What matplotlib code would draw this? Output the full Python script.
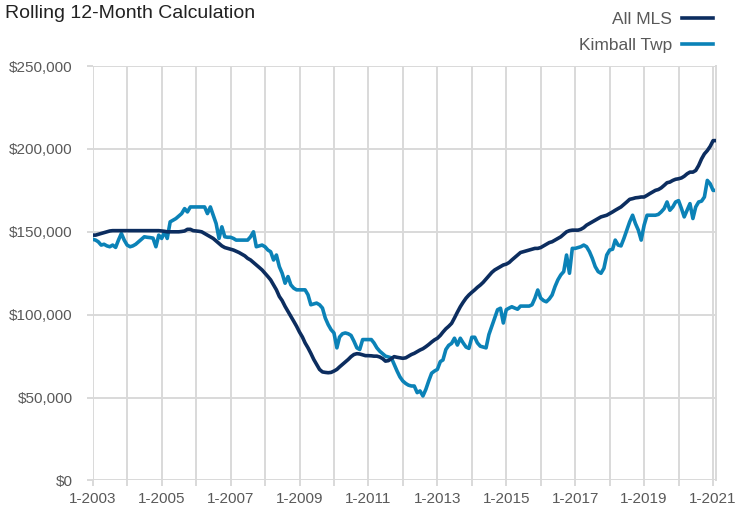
import matplotlib
matplotlib.use("Agg")
import matplotlib.pyplot as plt
import pandas as pd
from matplotlib import font_manager


# --------------------------------------------------
# DATA (rolling 12-month values, $ thousands, monthly from 1-2003)
# --------------------------------------------------

all_mls = [
    148, 148, 148.5, 149, 149.5, 150, 150.5, 150.7, 150.7, 150.7, 150.7, 150.7,
    150.7, 150.7, 150.7, 150.7, 150.7, 150.7, 150.7, 150.7, 150.7, 150.7, 150.7, 150.7,
    150.5, 150.3, 150, 150, 150, 150, 150, 150.2, 150.5, 151.5, 151.5, 150.7,
    150.5, 150.3, 150, 149, 148, 147, 146, 144.5, 143, 141.5, 140.5, 140,
    139.5, 139, 138.3, 137.5, 136.5, 135.5, 134, 133, 131.5, 130, 128.5, 127,
    125, 123, 121, 118, 115, 111, 108.5, 105, 102, 99, 96, 93,
    89.5, 86.5, 83, 80, 76.7, 73, 70, 67, 65.5, 65.2, 65, 65.2,
    66, 67, 68.5, 70, 71.5, 73, 74.7, 76, 76.5, 76.3, 75.8, 75.3,
    75.3, 75.2, 75, 75, 74.5, 73.5, 72, 72.3, 73.5, 74.7, 74.3, 74,
    73.7, 74, 75, 76, 76.7, 77.7, 78.7, 79.5, 80.7, 82, 83.5, 84.8,
    85.8, 87.5, 89.5, 91.5, 93, 94.8, 98, 101.5, 104.8, 107.5, 110, 111.9,
    113.5, 115, 116.5, 117.9, 119.5, 121.5, 123.5, 125.5, 127, 128, 129, 130,
    130.5, 131.5, 133, 134.5, 136, 137.5, 138, 138.5, 139, 139.5, 140, 140,
    140.5, 141.5, 142.5, 143.5, 144, 145, 146, 147, 148.5, 150, 150.7, 151,
    151, 151, 151.5, 152.5, 154, 155, 156, 157, 158, 159, 159.5, 160,
    161, 162, 163, 164, 165, 166.5, 168, 169.6, 170, 170.5, 170.7, 171,
    171, 172, 173, 174, 175, 175.5, 176.5, 178, 179.6, 180, 181, 181.7,
    182, 182.5, 183.5, 185, 186, 186, 187, 190, 194, 197, 199, 201.5,
    205, 205,
]

kimball_twp = [
    145.5, 145, 144, 142, 142.5, 141.5, 141, 142, 140.6, 145, 149, 145,
    142, 141, 141.5, 142.5, 144, 145.5, 147, 146.7, 146.5, 146.2, 141, 148,
    146, 150, 146, 156, 157, 158, 159.5, 161, 164, 162, 165, 165,
    165, 165, 165, 165, 161, 165, 160, 155, 146, 153, 147, 146.7,
    146.7, 146, 145, 145, 145, 145, 145, 147, 150, 141, 141.5, 142,
    141, 139, 138, 133, 136, 129, 125, 119, 123, 118, 116, 115,
    115, 115, 115, 112, 106, 106.5, 107, 106, 104, 98, 94, 91,
    89, 80, 86.5, 88.5, 89, 88.5, 87.5, 84, 80, 79, 85, 85,
    85, 85, 83, 80, 78, 76.5, 75, 74.5, 74, 70, 66, 62.5,
    60, 58.5, 57.5, 57, 57, 53, 54, 51, 55, 60, 64.7, 66,
    67, 71.7, 72.7, 79, 81.5, 82.7, 85.8, 81.7, 85.8, 83, 80.5, 79.7,
    86.4, 86.4, 83, 81, 80.5, 80, 88, 93, 98, 103, 103.9, 95,
    103, 104, 104.8, 104, 103.3, 105.2, 105.2, 105.2, 105.2, 106, 110, 114.9,
    110, 108.5, 107.8, 109.5, 111.9, 117, 121, 124, 126, 136, 125, 140,
    140, 140.5, 141, 142, 141, 138, 134, 129, 126, 125, 128, 136,
    139, 139.5, 145, 142, 141.5, 146, 151, 156, 160, 155, 151, 145,
    154, 160, 160, 160, 160, 160.5, 162, 164, 168, 163, 165, 168,
    168.8, 164, 159, 163, 167, 158, 165, 168, 168.5, 171, 181, 179,
    175, 175,
]

series_names = ["All MLS", "Kimball Twp"]

y_ticks = [0, 50000, 100000, 150000, 200000, 250000]

months = pd.date_range("2003-01-01", periods=len(all_mls), freq="MS")
years = list(range(2003, 2022))


# --------------------------------------------------
# STYLE
# --------------------------------------------------

installed = {f.name for f in font_manager.fontManager.ttflist}
narrow = "Liberation Sans Narrow" if "Liberation Sans Narrow" in installed else "Liberation Sans"
plt.rcParams["font.family"] = [narrow, "DejaVu Sans"]

navy = "#0c2d5f"
light_blue = "#0b82b7"
grid_color = "#d9d9d9"
text_gray = "#595959"


# --------------------------------------------------
# CHART
# --------------------------------------------------

fig = plt.figure(figsize=(7.38, 5.15), dpi=100)
ax = fig.add_axes([0.1256, 0.067, 0.8446, 0.8048])

ax.plot(months, [v * 1000 for v in all_mls], color=navy, lw=2.6,
        label=series_names[0], solid_joinstyle="round", zorder=3)
ax.plot(months, [v * 1000 for v in kimball_twp], color=light_blue, lw=2.6,
        label=series_names[1], solid_joinstyle="round", zorder=2)

ax.set_xlim(months[0], months[-1])
ax.set_ylim(0, 250000)

year_ticks = pd.to_datetime([f"{y}-01-01" for y in years])
ax.set_xticks(year_ticks)
ax.set_xticklabels([f"1-{y}" if (y - 2003) % 2 == 0 else "" for y in years])
ax.set_yticks(y_ticks)
ax.set_yticklabels([f"${v:,.0f}" for v in y_ticks])

ax.set_axisbelow(True)
ax.grid(True, color=grid_color, lw=1.4)
ax.tick_params(axis="both", colors=grid_color, width=1.4, length=4.5,
               labelcolor=text_gray, labelsize=11)
ax.tick_params(axis="y", pad=10)
ax.tick_params(axis="x", pad=4)

for side in ["left", "top", "bottom"]:
    ax.spines[side].set_visible(False)
ax.spines["right"].set_color(grid_color)
ax.spines["right"].set_linewidth(1.4)


# --------------------------------------------------
# TITLE AND LEGEND
# --------------------------------------------------

fig.text(5 / 738, 1 - 13 / 515, "Rolling 12-Month Calculation",
         fontsize=14, color="#222222", ha="left", va="center")

leg = ax.legend(loc="upper right", bbox_to_anchor=(720 / 738, 1 - 5 / 515),
                bbox_transform=fig.transFigure, frameon=False,
                markerfirst=False, fontsize=12.5, handlelength=1.8,
                handletextpad=0.55, labelspacing=0.6, borderaxespad=0)
for t in leg.get_texts():
    t.set_color(text_gray)


# --------------------------------------------------
# SAVE
# --------------------------------------------------

fig.savefig("out.png", dpi=100)
plt.close(fig)
